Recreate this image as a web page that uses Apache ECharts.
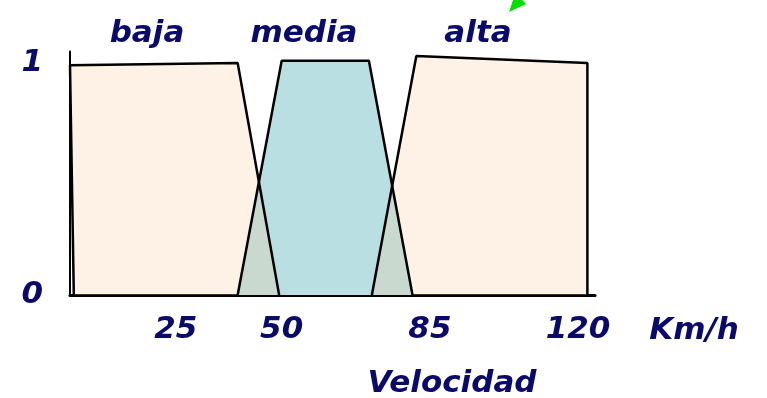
<!DOCTYPE html>
<html>
<head>
<meta charset="utf-8">
<title>Velocidad</title>
<script src="https://cdn.jsdelivr.net/npm/echarts@6/dist/echarts.min.js"></script>
<style>
  html, body { margin: 0; padding: 0; background: #fff; }
  #chart { width: 767px; height: 398px; }
</style>
</head>
<body>
<div id="chart"></div>
<script>
// conjuntos difusos: velocidad (km/h) y grado de pertenencia
const bajaX = [0.9, 0, 39.6, 49.4]
const bajaY = [0, 0.99, 1.0, 0]
const mediaX = [39.6, 50.0, 70.6, 80.9]
const mediaY = [0, 1.01, 1.01, 0]
const altaX = [71.3, 81.8, 122.2, 122.2]
const altaY = [0, 1.03, 1.0, 0]

const setNames = ['baja', 'media', 'alta']
const xTicks = [25, 50, 85, 120]
const yTicks = [0, 1]
const xUnit = 'Km/h'
const xTitle = 'Velocidad'

const navy = '#0a0a6b'
const fontCss = 'italic bold 31px "DejaVu Sans"'
const font = {
  fontFamily: 'DejaVu Sans',
  fontWeight: 'bold',
  fontStyle: 'italic',
  fontSize: 31,
  color: navy
}

function pts(xs, ys) {
  return xs.map((x, i) => [x, ys[i]])
}

function trapecio(name, xs, ys, fill) {
  return {
    name: name,
    type: 'line',
    data: pts(xs, ys),
    symbol: 'none',
    silent: true,
    lineStyle: { color: '#000', width: 2.5 },
    areaStyle: { color: fill, opacity: 1 }
  }
}

function texto(text, x, y) {
  return {
    type: 'text',
    x: x,
    y: y,
    style: {
      text: text,
      font: fontCss,
      fill: navy,
      textAlign: 'center',
      textVerticalAlign: 'middle',
      align: 'center',
      verticalAlign: 'middle'
    }
  }
}

const chart = echarts.init(document.getElementById('chart'))
const option = {
  animation: false,
  backgroundColor: '#fff',
  grid: { left: 70, right: 172, top: 51.4, bottom: 103 },
  xAxis: {
    type: 'value',
    min: 0,
    max: 124,
    axisLine: { show: true, onZero: false, lineStyle: { color: '#000', width: 3 } },
    axisTick: { show: false },
    splitLine: { show: false },
    axisLabel: { customValues: xTicks, margin: 19, ...font }
  },
  yAxis: {
    type: 'value',
    min: 0,
    max: 1.05,
    axisLine: { show: true, lineStyle: { color: '#000', width: 2 } },
    axisTick: { show: false },
    splitLine: { show: false },
    axisLabel: { customValues: yTicks, margin: 27, ...font }
  },
  graphic: [
    texto(setNames[0], 147, 34),
    texto(setNames[1], 304, 34),
    texto(setNames[2], 478, 34),
    texto(xUnit, 694, 331),
    texto(xTitle, 452, 384),
    {
      type: 'polygon',
      shape: { points: [[509, 12], [513, 0], [522, 0], [526, 4]] },
      style: { fill: '#00e000' }
    }
  ],
  series: [
    trapecio(setNames[1], mediaX, mediaY, '#b9dfe2'),
    trapecio(setNames[0], bajaX, bajaY, 'rgba(251,199,155,0.25)'),
    trapecio(setNames[2], altaX, altaY, 'rgba(251,199,155,0.25)')
  ]
}
chart.setOption(option)
</script>
</body>
</html>
